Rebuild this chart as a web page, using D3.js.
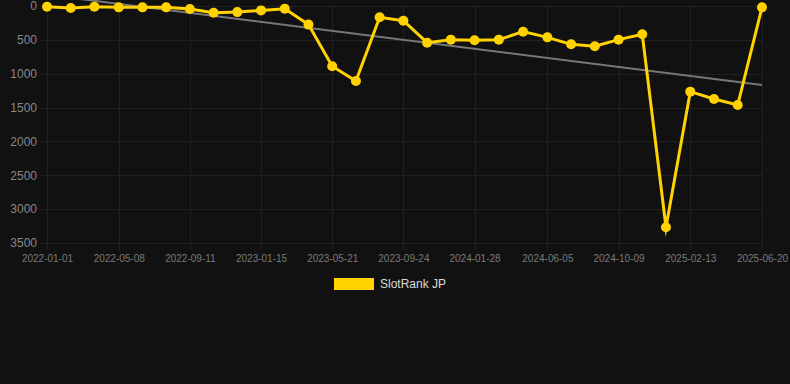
<!DOCTYPE html>
<html>
<head>
<meta charset="utf-8">
<script src="https://cdn.jsdelivr.net/npm/d3@7"></script>
<style>
  body { margin: 0; background: #111111; }
  svg { display: block; font-family: "Liberation Sans", Arial, sans-serif; }
</style>
</head>
<body>
<div id="graph"></div>
<script>
const dates = [
  "2022-01-01", "2022-02-12", "2022-03-26", "2022-05-08", "2022-06-19", "2022-07-31",
  "2022-09-11", "2022-10-23", "2022-12-04", "2023-01-15", "2023-02-26", "2023-04-09",
  "2023-05-21", "2023-07-02", "2023-08-13", "2023-09-24", "2023-11-05", "2023-12-17",
  "2024-01-28", "2024-03-11", "2024-04-23", "2024-06-05", "2024-07-17", "2024-08-28",
  "2024-10-09", "2024-11-20", "2025-01-01", "2025-02-13", "2025-03-27", "2025-05-08",
  "2025-06-20",
];
const ranks = [
  10, 30, 10, 20, 20, 20, 45, 100, 90, 65, 40, 275, 890, 1107, 167, 217,
  542, 497, 507, 497, 379, 463, 566, 595, 497, 418, 3268, 1265, 1373, 1462, 20,
];
const tickDates = [
  "2022-01-01", "2022-05-08", "2022-09-11", "2023-01-15", "2023-05-21", "2023-09-24",
  "2024-01-28", "2024-06-05", "2024-10-09", "2025-02-13", "2025-06-20",
];
const yTicks = [0, 500, 1000, 1500, 2000, 2500, 3000, 3500];
const trend = [-165, 1167]; // trend line values at first and last date
const seriesName = "SlotRank JP";

const w = 790;
const h = 384;
const padding = { top: 6, bottom: 141, left: 47, right: 28 };
const parse = d3.utcParse("%Y-%m-%d");
const data = dates.map((d, i) => ({ date: parse(d), rank: ranks[i] }));

const svg = d3.select("#graph").append("svg").attr("width", w).attr("height", h);
svg.append("rect").attr("width", w).attr("height", h).attr("fill", "#111111");

const x = d3.scaleUtc()
  .domain(d3.extent(data, (d) => d.date))
  .range([padding.left, w - padding.right]);
const y = d3.scaleLinear()
  .domain([0, 3500])
  .range([padding.top, h - padding.bottom]);

// grid
svg.append("g")
  .selectAll("line")
  .data(yTicks)
  .join("line")
  .attr("x1", padding.left - 7)
  .attr("x2", w - padding.right)
  .attr("y1", (d) => Math.round(y(d)) + 0.5)
  .attr("y2", (d) => Math.round(y(d)) + 0.5)
  .attr("stroke", "#202020");
svg.append("g")
  .selectAll("line")
  .data(tickDates.map(parse))
  .join("line")
  .attr("x1", (d) => Math.round(x(d)) + 0.5)
  .attr("x2", (d) => Math.round(x(d)) + 0.5)
  .attr("y1", padding.top)
  .attr("y2", h - padding.bottom + 7)
  .attr("stroke", "#202020");

// axes
const yAxis = svg.append("g")
  .attr("transform", `translate(${padding.left - 10},0)`)
  .call(d3.axisLeft(y).tickValues(yTicks).tickFormat(d3.format("d")).tickSize(0).tickPadding(0));
yAxis.select(".domain").remove();
yAxis.selectAll("text").attr("fill", "#888").attr("font-size", 12).attr("font-family", "Liberation Sans, Arial, sans-serif");

const xAxis = svg.append("g")
  .attr("transform", `translate(0,${h - padding.bottom + 12})`)
  .call(d3.axisBottom(x).tickValues(tickDates.map(parse)).tickFormat(d3.utcFormat("%Y-%m-%d")).tickSize(0).tickPadding(0));
xAxis.select(".domain").remove();
xAxis.selectAll("text").attr("fill", "#7a7a7a").attr("font-size", 10).attr("font-family", "Liberation Sans, Arial, sans-serif");

// trend
svg.append("line")
  .attr("x1", x(data[0].date))
  .attr("y1", y(trend[0]))
  .attr("x2", x(data[data.length - 1].date))
  .attr("y2", y(trend[1]))
  .attr("stroke", "#777")
  .attr("stroke-width", 2);

// series
svg.append("path")
  .datum(data)
  .attr("fill", "none")
  .attr("stroke", "#FFD200")
  .attr("stroke-width", 3)
  .attr("stroke-miterlimit", 10)
  .attr("d", d3.line().x((d) => x(d.date)).y((d) => y(d.rank)));
svg.append("g")
  .selectAll("circle")
  .data(data)
  .join("circle")
  .attr("cx", (d) => x(d.date))
  .attr("cy", (d) => y(d.rank))
  .attr("r", 5)
  .attr("fill", "#FFD200");

// legend
const legend = svg.append("g").attr("transform", "translate(334,278)");
legend.append("rect").attr("width", 40).attr("height", 12).attr("fill", "#FFD200");
legend.append("text")
  .attr("x", 46)
  .attr("y", 10)
  .attr("fill", "#ddd")
  .attr("font-size", 12)
  .text(seriesName);
</script>
</body>
</html>
